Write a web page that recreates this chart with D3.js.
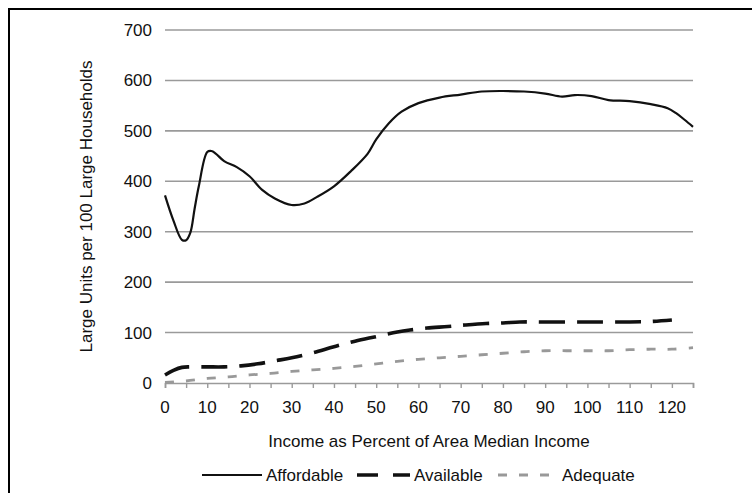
<!DOCTYPE html>
<html>
<head>
<meta charset="utf-8">
<script src="https://cdn.jsdelivr.net/npm/d3@7"></script>
<style>
  html, body { margin: 0; padding: 0; background: #fff; }
  svg { display: block; }
  text { font-family: "Liberation Sans", Arial, Helvetica, sans-serif; fill: #111; }
</style>
</head>
<body>
<svg id="chart" width="752" height="493"></svg>
<script>
// ---- data ----
const affordableX = [0, 2, 4, 5, 6, 7, 8, 10, 11, 12, 14, 17, 20, 23, 26, 30, 33, 36, 40, 44, 48, 50, 53, 56, 60, 65, 70, 75, 80, 85, 90, 94, 97, 101, 105, 110, 115, 119, 121, 123, 125];
const affordableY = [372, 322, 284, 283, 298, 345, 390, 458, 460, 455, 440, 428, 410, 383, 366, 353, 356, 369, 390, 420, 455, 483, 515, 538, 555, 566, 572, 578, 579, 578, 574, 568, 571, 569, 561, 559, 553, 545, 535, 522, 508];

const availableX = [0, 2, 4, 6, 10, 14, 18, 22, 26, 30, 35, 40, 45, 50, 55, 58, 62, 67, 71, 76, 80, 84, 90, 100, 110, 115, 120];
const availableY = [16, 25, 31, 32, 32, 32, 34, 38, 44, 50, 60, 72, 83, 92, 101, 105, 109, 112, 115, 118, 119, 121, 121, 121, 121, 122, 125];

const adequateX = [0, 5, 10, 15, 20, 25, 30, 35, 40, 45, 50, 55, 60, 65, 70, 75, 80, 85, 90, 95, 100, 105, 110, 115, 120, 125];
const adequateY = [1, 4, 9, 12, 16, 19, 23, 26, 29, 33, 38, 43, 47, 50, 53, 56, 59, 62, 64, 64, 64, 64, 66, 67, 67, 70];

const xTickLabels = [0, 10, 20, 30, 40, 50, 60, 70, 80, 90, 100, 110, 120];
const xMinorTicks = d3.range(0, 126, 5);
const yTickLabels = [0, 100, 200, 300, 400, 500, 600, 700];
const seriesNames = ["Affordable", "Available", "Adequate"];
const xTitle = "Income as Percent of Area Median Income";
const yTitle = "Large Units per 100 Large Households";

// ---- layout ----
const svg = d3.select("#chart");
const x = d3.scaleLinear().domain([0, 125]).range([165, 693]);
const y = d3.scaleLinear().domain([0, 700]).range([383, 30]);
const fontSize = 17;

// frame
svg.append("rect").attr("x", 9).attr("y", 9).attr("width", 900).attr("height", 700)
  .attr("fill", "none").attr("stroke", "#000").attr("stroke-width", 2);

// gridlines
svg.append("g").selectAll("line").data(yTickLabels.filter(d => d > 0)).join("line")
  .attr("x1", x(0)).attr("x2", x(125))
  .attr("y1", d => y(d)).attr("y2", d => y(d))
  .attr("stroke", "#9a9a9a").attr("stroke-width", 1.6);

// x axis line + ticks
const xAxis = d3.axisBottom(x).tickValues(xMinorTicks).tickSize(5).tickFormat("");
const gx = svg.append("g").attr("transform", `translate(0,${y(0)})`).call(xAxis);
gx.select(".domain").attr("stroke", "#9a9a9a").attr("stroke-width", 1.6);
gx.selectAll(".tick line").attr("stroke", "#9a9a9a").attr("stroke-width", 1.4);

// x labels
svg.append("g").selectAll("text").data(xTickLabels).join("text")
  .attr("x", d => x(d)).attr("y", 413)
  .attr("text-anchor", "middle").attr("font-size", fontSize)
  .text(d => d);

// y labels
svg.append("g").selectAll("text").data(yTickLabels).join("text")
  .attr("x", 152).attr("y", d => y(d) + 6)
  .attr("text-anchor", "end").attr("font-size", fontSize)
  .text(d => d);

// titles
svg.append("text").attr("x", x(62.5)).attr("y", 447)
  .attr("text-anchor", "middle").attr("font-size", fontSize).text(xTitle);
svg.append("text")
  .attr("transform", `translate(92,${(y(0) + y(700)) / 2}) rotate(-90)`)
  .attr("text-anchor", "middle").attr("font-size", fontSize).text(yTitle);

// lines
const line = d3.line().x(d => x(d[0])).y(d => y(d[1])).curve(d3.curveCatmullRom.alpha(0.5));
const styles = [
  { color: "#111", width: 2.2, dash: null },
  { color: "#111", width: 3.6, dash: "26,12" },
  { color: "#999", width: 2.8, dash: "9,12" }
];
const seriesData = [
  d3.zip(affordableX, affordableY),
  d3.zip(availableX, availableY),
  d3.zip(adequateX, adequateY)
];
// draw adequate first, then available, then affordable
[2, 1, 0].forEach(i => {
  svg.append("path").datum(seriesData[i])
    .attr("d", line)
    .attr("fill", "none")
    .attr("stroke", styles[i].color)
    .attr("stroke-width", styles[i].width)
    .attr("stroke-dasharray", styles[i].dash)
    .attr("stroke-linejoin", "round");
});

// legend
const legendItems = [
  { x1: 202, x2: 262, tx: 266 },
  { x1: 357, x2: 410, tx: 414 },
  { x1: 498, x2: 558, tx: 562 }
];
const ly = 475;
legendItems.forEach((it, i) => {
  svg.append("line").attr("x1", it.x1).attr("x2", it.x2).attr("y1", ly).attr("y2", ly)
    .attr("stroke", styles[i].color).attr("stroke-width", styles[i].width)
    .attr("stroke-dasharray", i === 1 ? "21,15" : styles[i].dash);
  svg.append("text").attr("x", it.tx).attr("y", ly + 6)
    .attr("font-size", fontSize).text(seriesNames[i]);
});
</script>
</body>
</html>
